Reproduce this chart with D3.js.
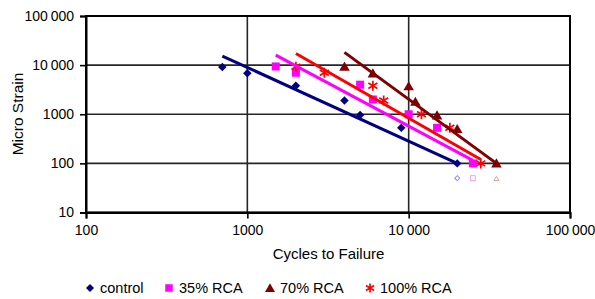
<!DOCTYPE html>
<html><head><meta charset="utf-8">
<script src="https://cdn.jsdelivr.net/npm/d3@7"></script>
<style>
html,body{margin:0;padding:0;background:#fff;}
text{font-family:"Liberation Sans",Arial,sans-serif;fill:#000;}
</style></head>
<body>
<svg id="chart" width="595" height="299"></svg>
<script>
// ---- data ----
const seriesNames = ["control", "35% RCA", "70% RCA", "100% RCA"];
const seriesColors = ["#000080", "#FF00FF", "#800000", "#FF0000"];
const seriesShapes = ["diamond", "square", "triangle", "star"];
const controlCycles = [700, 1000, 2000, 4000, 5000, 9000, 20000];
const controlStrain = [9200, 6800, 3800, 1900, 970, 530, 100];
const rca35Cycles = [1500, 2000, 5000, 6000, 10000, 15000, 25000];
const rca35Strain = [9400, 7000, 4000, 2000, 1000, 530, 100];
const rca70Cycles = [4000, 6000, 10000, 11000, 15000, 20000, 35000];
const rca70Strain = [9300, 6800, 3700, 1800, 950, 500, 100];
const rca100Cycles = [2000, 3000, 6000, 7000, 12000, 18000, 28000];
const rca100Strain = [9300, 7000, 3800, 1900, 1000, 530, 100];
// power trend lines (start / end, data units)
const controlTrend = [[700, 15300], [20000, 100]];
const rca35Trend = [[1500, 16000], [25000, 115]];
const rca70Trend = [[4000, 18200], [35000, 100]];
const rca100Trend = [[2000, 17300], [28000, 120]];
// run-out points (hollow)
const runoutCycles = [20000, 25000, 35000];
const runoutStrain = [50, 50, 50];
const runoutShapes = ["diamond", "square", "triangle"];
const runoutColors = ["#8c8cd9", "#f2a0f2", "#d9a0a0"];
const xTicks = [100, 1000, 10000, 100000];
const yTicks = [10, 100, 1000, 10000, 100000];
const xTitle = "Cycles to Failure";
const yTitle = "Micro Strain";

const allCycles = [controlCycles, rca35Cycles, rca70Cycles, rca100Cycles];
const allStrain = [controlStrain, rca35Strain, rca70Strain, rca100Strain];
const allTrends = [controlTrend, rca35Trend, rca70Trend, rca100Trend];

// ---- layout ----
const svg = d3.select("#chart");
const L = 86, R = 570, T = 16, B = 212.5;
const x = d3.scaleLog().domain([100, 100000]).range([L, R]);
const y = d3.scaleLog().domain([10, 100000]).range([B, T]);
const fmt = v => v >= 10000 ? d3.format(",")(v).replace(/,/g, "\u2009") : String(v);

// gridlines
const g = svg.append("g");
g.selectAll("line.hy").data(yTicks).join("line")
  .attr("x1", L).attr("x2", R).attr("y1", d => y(d)).attr("y2", d => y(d))
  .attr("stroke", "#262626").attr("stroke-width", 1.6);
g.selectAll("line.vx").data(xTicks).join("line")
  .attr("y1", T).attr("y2", B).attr("x1", d => x(d)).attr("x2", d => x(d))
  .attr("stroke", "#262626").attr("stroke-width", 1.6);
// border
g.append("rect").attr("x", L).attr("y", T).attr("width", R - L).attr("height", B - T)
  .attr("fill", "none").attr("stroke", "#000").attr("stroke-width", 2);

// axes
const xAxis = d3.axisBottom(x).tickValues(xTicks).tickFormat(fmt).tickSize(6).tickPadding(7);
const yAxis = d3.axisLeft(y).tickValues(yTicks).tickFormat(fmt).tickSize(6).tickPadding(6);
const gx = svg.append("g").attr("transform", `translate(0,${B})`).call(xAxis);
const gy = svg.append("g").attr("transform", `translate(${L},0)`).call(yAxis);
[gx, gy].forEach(a => {
  a.select(".domain").attr("stroke", "#000").attr("stroke-width", 2);
  a.selectAll(".tick line").attr("stroke", "#000").attr("stroke-width", 1.6);
  a.selectAll(".tick text").attr("font-size", 14).attr("font-family", '"Liberation Sans",Arial,sans-serif').attr("fill", "#000");
});

svg.append("text").attr("x", (L + R) / 2 + 0.5).attr("y", 259).attr("text-anchor", "middle")
  .attr("font-size", 15).text(xTitle);
svg.append("text").attr("transform", "translate(23,114) rotate(-90)").attr("text-anchor", "middle")
  .attr("font-size", 15.5).text(yTitle);

// marker generator: w = approximate marker width in px
function marker(sel, shape, color, w, hollow) {
  if (shape === "star") {
    const r = w / 2;
    sel.append("path")
      .attr("d", `M0,${-r}L0,${r}M${-r*0.9},${-r*0.55}L${r*0.9},${r*0.55}M${-r*0.9},${r*0.55}L${r*0.9},${-r*0.55}`)
      .attr("stroke", color).attr("stroke-width", 1.7).attr("fill", "none");
    return;
  }
  let p;
  if (shape === "diamond") {
    p = sel.append("path").attr("d", d3.symbol(d3.symbolSquare, (w / Math.SQRT2) ** 2)()).attr("transform", "rotate(45)");
  } else if (shape === "square") {
    p = sel.append("path").attr("d", d3.symbol(d3.symbolSquare, w * w)());
  } else {
    p = sel.append("path").attr("d", d3.symbol(d3.symbolTriangle, w * w * 0.433)()).attr("transform", "translate(0,1)");
  }
  if (hollow) p.attr("fill", "#fff").attr("stroke", color).attr("stroke-width", 1);
  else p.attr("fill", color);
}
const sizes = { diamond: 8.5, square: 8, triangle: 10.5, star: 10 };

// points
seriesNames.forEach((name, i) => {
  const pts = allCycles[i].map((c, j) => [c, allStrain[i][j]]);
  svg.append("g").selectAll("g").data(pts).join("g")
    .attr("transform", d => `translate(${x(d[0])},${y(d[1])})`)
    .each(function () { marker(d3.select(this), seriesShapes[i], seriesColors[i], sizes[seriesShapes[i]], false); });
});

// runouts
runoutCycles.forEach((c, i) => {
  const gg = svg.append("g").attr("transform", `translate(${x(c)},${y(runoutStrain[i])})`);
  marker(gg, runoutShapes[i], runoutColors[i], 5, true);
});

// trend lines
const line = d3.line().x(d => x(d[0])).y(d => y(d[1]));
allTrends.forEach((t, i) => {
  svg.append("path").attr("d", line(t)).attr("fill", "none")
    .attr("stroke", seriesColors[i]).attr("stroke-width", 3);
});

// legend
const legX = [90, 169, 270, 370];
const legSizes = { diamond: 8, square: 7.5, triangle: 10, star: 9 };
seriesNames.forEach((name, i) => {
  const gg = svg.append("g").attr("transform", `translate(${legX[i]},288)`);
  marker(gg, seriesShapes[i], seriesColors[i], legSizes[seriesShapes[i]], false);
  svg.append("text").attr("x", legX[i] + 10).attr("y", 293).attr("font-size", 14.5).text(name);
});
</script>
</body></html>
